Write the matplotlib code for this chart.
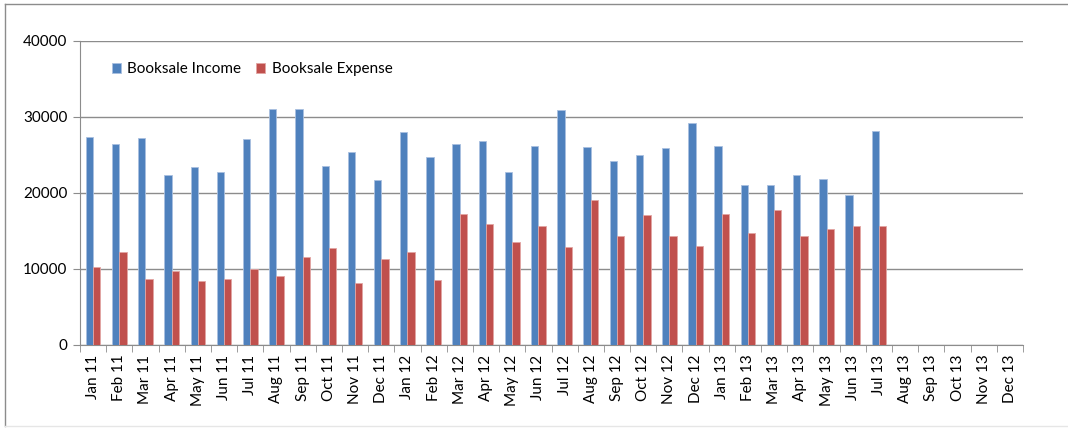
import numpy as np
import matplotlib
matplotlib.use("Agg")
import matplotlib.pyplot as plt
from matplotlib.lines import Line2D

plt.rcParams["font.family"] = ["Lato", "DejaVu Sans"]

months = ["Jan 11", "Feb 11", "Mar 11", "Apr 11", "May 11", "Jun 11", "Jul 11", "Aug 11",
          "Sep 11", "Oct 11", "Nov 11", "Dec 11", "Jan 12", "Feb 12", "Mar 12", "Apr 12",
          "May 12", "Jun 12", "Jul 12", "Aug 12", "Sep 12", "Oct 12", "Nov 12", "Dec 12",
          "Jan 13", "Feb 13", "Mar 13", "Apr 13", "May 13", "Jun 13", "Jul 13", "Aug 13",
          "Sep 13", "Oct 13", "Nov 13", "Dec 13"]
income = [27400, 26400, 27300, 22400, 23400, 22700, 27100, 31100, 31100, 23600, 25400, 21700,
          28000, 24700, 26500, 26900, 22800, 26200, 30900, 26100, 24200, 25000, 25900, 29200,
          26200, 21000, 21100, 22400, 21900, 19800, 28200]
expense = [10300, 12300, 8700, 9700, 8400, 8700, 10000, 9100, 11600, 12700, 8200, 11300,
           12200, 8500, 17200, 15900, 13500, 15700, 12900, 19100, 14400, 17100, 14400, 13000,
           17200, 14700, 17800, 14400, 15300, 15600, 15700]

BLUE, RED = "#4F81BD", "#C0504D"
W = 1068; H = 428

fig = plt.figure(figsize=(W / 100, H / 100), dpi=100)
# outer chart border
fig.add_artist(Line2D([5 / W, 5 / W], [2 / H, 1 - 4 / H], color="#8c8c8c", lw=1))
fig.add_artist(Line2D([5 / W, 1], [1 - 4 / H, 1 - 4 / H], color="#8c8c8c", lw=1))
fig.add_artist(Line2D([5 / W, 1], [2 / H, 2 / H], color="#e6e6e6", lw=1))

ax = fig.add_axes([80 / W, 83 / H, 943 / W, 304 / H])
x = np.arange(len(months))
bw = 0.28
ax.bar(x[:len(income)] - bw / 2, income, bw, color=BLUE, edgecolor="#a9c0e0", linewidth=0.6,
       label="Booksale Income", zorder=3)
ax.bar(x[:len(expense)] + bw / 2, expense, bw, color=RED, edgecolor="#e2a5a3", linewidth=0.6,
       label="Booksale Expense", zorder=3)

ax.set_xlim(-0.5, len(months) - 0.5)
ax.set_ylim(0, 40000)
ax.set_yticks([0, 10000, 20000, 30000, 40000])
ax.yaxis.grid(True, color="#8c8c8c", lw=1, zorder=0)
ax.set_axisbelow(True)
for s in ("top", "right"):
    ax.spines[s].set_visible(False)
ax.spines["left"].set_color("#8c8c8c")
ax.spines["bottom"].set_color("#8c8c8c")
ax.tick_params(axis="y", length=5, color="#8c8c8c", labelsize=11, pad=4)

ax.set_xticks(x)
ax.set_xticklabels(months, rotation=90, fontsize=11)
ax.tick_params(axis="x", length=0, pad=7)
ax.set_xticks(np.arange(-0.5, len(months), 1), minor=True)
ax.tick_params(axis="x", which="minor", length=5, color="#8c8c8c")

ax.legend(loc="upper left", bbox_to_anchor=(0.019, 0.976), ncol=2, frameon=False, fontsize=11,
          handlelength=0.6, handleheight=0.6, handletextpad=0.4, columnspacing=1.0)

fig.savefig("out.png", dpi=100)
